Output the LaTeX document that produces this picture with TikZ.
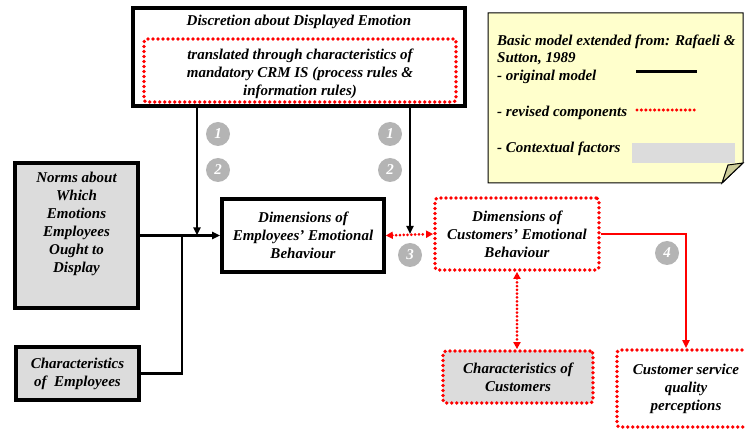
\documentclass[tikz,border=0pt]{standalone}
\usepackage{fontspec}
\setmainfont{Liberation Serif}
\usetikzlibrary{arrows.meta,calc}
\definecolor{legendfill}{HTML}{FFFFCC}
\definecolor{foldfill}{HTML}{CCCC99}
\definecolor{ctxgray}{HTML}{DCDCDC}
\definecolor{badgegray}{HTML}{B4B4B4}
\begin{document}
\begin{tikzpicture}[x=1pt,y=-1pt,
  txt/.style={font=\fontsize{15}{18}\selectfont\bfseries\itshape, align=center, inner sep=0pt},
  blackbox/.style={draw=black, line width=3.6pt, inner sep=0pt},
  redbox/.style={draw=red, line width=3.8pt, dash pattern=on 0pt off 5pt, line cap=round, rounded corners=3pt, inner sep=0pt},
  ctx/.style={fill=ctxgray},
  conn/.style={line width=2.6pt, -{Triangle[length=8pt,width=7pt]}},
  plain/.style={line width=2.6pt},
  reddbl/.style={red, line width=3pt, dash pattern=on 0pt off 3.8pt, line cap=round, {Triangle[length=7pt,width=7pt]}-{Triangle[length=7pt,width=7pt]}},
  redarrow/.style={red, line width=2.4pt, -{Triangle[length=8pt,width=7pt]}},
  badge/.style={circle, fill=badgegray, text=white, minimum size=24pt, inner sep=0pt, font=\fontsize{15}{15}\selectfont\bfseries\itshape},
  legtxt/.style={font=\fontsize{15}{18}\selectfont\bfseries\itshape, anchor=west, inner sep=0pt}
]
\useasboundingbox (0,0) rectangle (745,430);
\clip (0,0) rectangle (745,430);

% top box
\node[blackbox, minimum width=332pt, minimum height=98pt] (top) at (299,57) {};
\node[txt] (toptitle) at (299,22) {Discretion about Displayed Emotion};
\node[redbox, minimum width=312pt, minimum height=63pt] (crm) at (300,70.5) {};
\node[txt] (crmtxt) at (300,74) {translated through characteristics of\\mandatory CRM IS (process rules \&\\information rules)};

% employees behaviour
\node[blackbox, txt, minimum width=162pt, minimum height=73pt] (emp) at (303,235.5) {Dimensions of\\Employees' Emotional\\Behaviour};

% customers behaviour
\node[redbox, txt, minimum width=164pt, minimum height=72pt] (cust) at (517,234) {Dimensions of\\Customers' Emotional\\Behaviour};

% characteristics of customers
\node[redbox, ctx, txt, minimum width=150pt, minimum height=52pt] (chcust) at (518,377) {Characteristics of\\Customers};

% customer service quality
\node[redbox, txt, minimum width=138pt, minimum height=77pt] (cserv) at (686,388.5) {Customer service\\quality\\perceptions};

% norms
\node[blackbox, ctx, minimum width=123pt, minimum height=145pt] (norms) at (76.5,235.5) {};
\node[txt] (normstxt) at (76.5,224) {Norms about\\Which\\Emotions\\Employees\\Ought to\\Display};

% characteristics of employees
\node[blackbox, ctx, txt, minimum width=123pt, minimum height=53pt] (chemp) at (77.5,373.5) {Characteristics\\of~ Employees};

% junction coordinates
\coordinate (j1) at (182,235.5);
\coordinate (j2) at (197,235.5);
\coordinate (j3) at (410,234);

% connectors
\draw[conn] (norms.east) -- (emp.west);
\draw[plain] (chemp.east) -| (j1);
\draw[conn] (top.south -| j2) -- (j2);
\draw[conn] (top.south -| j3) -- (j3);
\draw[reddbl] (emp.east) -- (cust.west);
\draw[reddbl] (cust.south) -- (cust.south |- chcust.north);
\draw[redarrow] (cust.east) -| (cserv.north);

% badges
\node[badge] (b1a) at (218,134) {1};
\node[badge] (b2a) at (218,170) {2};
\node[badge] (b1b) at (390,134) {1};
\node[badge] (b2b) at (390,170) {2};
\node[badge] (b3) at (410,255) {3};
\node[badge] (b4) at (667,253) {4};

% legend
\draw[fill=legendfill, line width=1pt] (488,13) -- (743,13) -- (743,163) -- (722,183) -- (488,183) -- cycle;
\draw[fill=foldfill, line width=1pt] (722,183) -- (728,165) -- (743,163) -- cycle;
\node[legtxt] (l1) at (497,42) {Basic model extended from: Rafaeli \&};
\node[legtxt] (l2) at (497,59) {Sutton, 1989};
\node[legtxt] (l3) at (497,77) {- original model};
\node[legtxt] (l4) at (497,113) {- revised components};
\node[legtxt] (l5) at (497,149) {- Contextual factors};
\draw[line width=3pt] (636,72) -- (697,72);
\draw[red, line width=3.4pt, dash pattern=on 0pt off 4.4pt, line cap=round] (637,110) -- (697,110);
\fill[ctxgray] (632,143) rectangle (735,163);
\end{tikzpicture}
\end{document}
